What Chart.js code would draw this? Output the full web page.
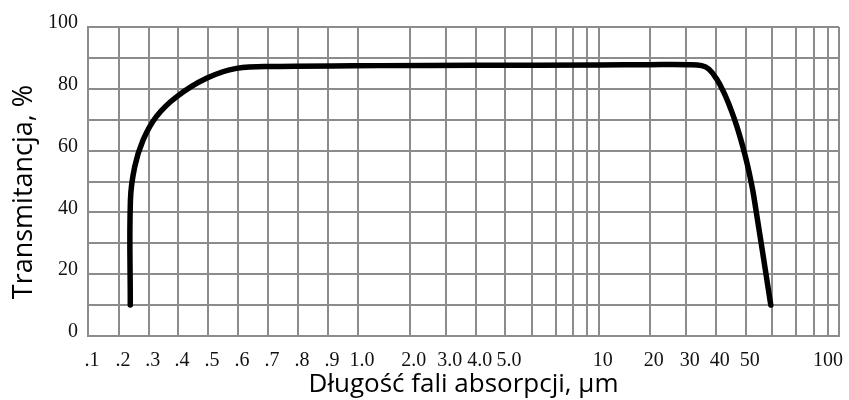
<!DOCTYPE html>
<html>
<head>
<meta charset="utf-8">
<script src="https://cdn.jsdelivr.net/npm/chart.js@4"></script>
<style>
  html, body { margin: 0; padding: 0; background: #fff; }
  #wrap { width: 849px; height: 400px; }
</style>
</head>
<body>
<div id="wrap"><canvas id="chart" width="849" height="400"></canvas></div>
<script>
// wavelength (um) vs transmittance (%)
const wavelengths = [0.238, 0.2385, 0.253, 0.281, 0.326, 0.395, 0.495, 0.595, 0.74, 1.42, 4, 10, 20, 31, 35.33, 37.67, 40.23, 42.67, 45, 47, 49, 50.56, 51.87, 53, 59.4];
const transmittance = [10, 44, 54.8, 63.4, 71, 77.4, 83.4, 86.6, 87.2, 87.5, 87.6, 87.7, 87.8, 87.8, 87.5, 86.4, 83.3, 78.9, 73.5, 68, 61.4, 55.7, 50.5, 45.4, 10];

// grid lines of the paper and the labelled ones
const gridWl = [0.1, 0.2, 0.3, 0.4, 0.5, 0.6, 0.7, 0.8, 0.9, 1, 2, 3, 4, 5, 6, 7, 8, 9, 10, 20, 30, 40, 50, 60, 70, 80, 90, 100];
const tickWl = [0.1, 0.2, 0.3, 0.4, 0.5, 0.6, 0.7, 0.8, 0.9, 1, 2, 3, 4, 5, 10, 20, 30, 40, 50, 100];
const tickText = ['.1', '.2', '.3', '.4', '.5', '.6', '.7', '.8', '.9', '1.0', '2.0', '3.0', '4.0', '5.0', '10', '20', '30', '40', '50', '100'];

// where each grid line sits along the (odd, hand-drawn) axis
const gridPos = [0, 31, 60.7, 90, 120, 150, 180, 210, 240, 270, 321.7, 357.7, 387.7, 417, 444.4, 467.7, 485, 499, 510.7, 561.7, 597.7, 627.7, 657.7, 684.4, 708.4, 725.7, 740, 751];
const AXIS_MAX = 751;

function pos(w) {
    for (let i = 0; i < gridWl.length - 1; i++) {
        if (w <= gridWl[i + 1]) {
            const t = (w - gridWl[i]) / (gridWl[i + 1] - gridWl[i]);
            return gridPos[i] + t * (gridPos[i + 1] - gridPos[i]);
        }
    }
    return AXIS_MAX;
}

const points = wavelengths.map((w, i) => ({ x: pos(w), y: transmittance[i] }));
const gridColor = '#8c8c8c';
const serif = "'Liberation Serif', 'DejaVu Serif', serif";
const sans = "'Open Sans', sans-serif";

new Chart(document.getElementById('chart'), {
    type: 'line',
    data: {
        datasets: [{
            data: points,
            borderColor: '#000',
            borderWidth: 5.5,
            borderCapStyle: 'round',
            borderJoinStyle: 'round',
            pointRadius: 0,
            tension: 0.4,
            fill: false
        }]
    },
    options: {
        responsive: false,
        animation: false,
        layout: { padding: { top: 27, right: 10, left: 0, bottom: 0 } },
        plugins: { legend: { display: false }, tooltip: { enabled: false } },
        scales: {
            x: {
                type: 'linear',
                position: 'bottom',
                min: 0,
                max: AXIS_MAX,
                afterBuildTicks: s => { s.ticks = gridPos.map(v => ({ value: v })); },
                afterFit: s => { s.height = 0; s.paddingLeft = 0; s.paddingRight = 0; },
                ticks: { display: false },
                grid: { color: gridColor, lineWidth: 2, drawTicks: false },
                border: { color: gridColor, width: 2 }
            },
            xl: {
                type: 'linear',
                position: 'bottom',
                min: 0,
                max: AXIS_MAX,
                afterBuildTicks: s => {
                    s.ticks = tickWl.map(w => ({ value: Math.min(pos(w), AXIS_MAX - 15) }));
                },
                afterFit: s => { s.height = 64; s.paddingLeft = 0; s.paddingRight = 0; },
                grid: { display: false, drawTicks: false },
                border: { display: false },
                ticks: {
                    autoSkip: false,
                    maxRotation: 0,
                    padding: 13,
                    labelOffset: 4,
                    color: '#111',
                    font: { family: serif, size: 20 },
                    callback: (v, i) => tickText[i]
                },
                title: {
                    display: true,
                    text: 'Długość fali absorpcji, μm',
                    color: '#000',
                    font: { family: sans, size: 26 },
                    padding: { top: 0, bottom: 0 }
                }
            },
            y: {
                min: 0,
                max: 100,
                afterFit: s => { s.width = 88; },
                ticks: {
                    stepSize: 10,
                    padding: 10,
                    labelOffset: -4,
                    color: '#111',
                    font: { family: serif, size: 20 },
                    callback: v => (v % 20 === 0 ? v : '')
                },
                grid: { color: gridColor, lineWidth: 2, drawTicks: false },
                border: { color: gridColor, width: 2 },
                title: {
                    display: true,
                    text: 'Transmitancja, %\u00a0\u00a0\u00a0',
                    color: '#000',
                    font: { family: sans, size: 27 },
                    padding: { top: 8, bottom: 0 }
                }
            }
        }
    }
});
</script>
</body>
</html>
